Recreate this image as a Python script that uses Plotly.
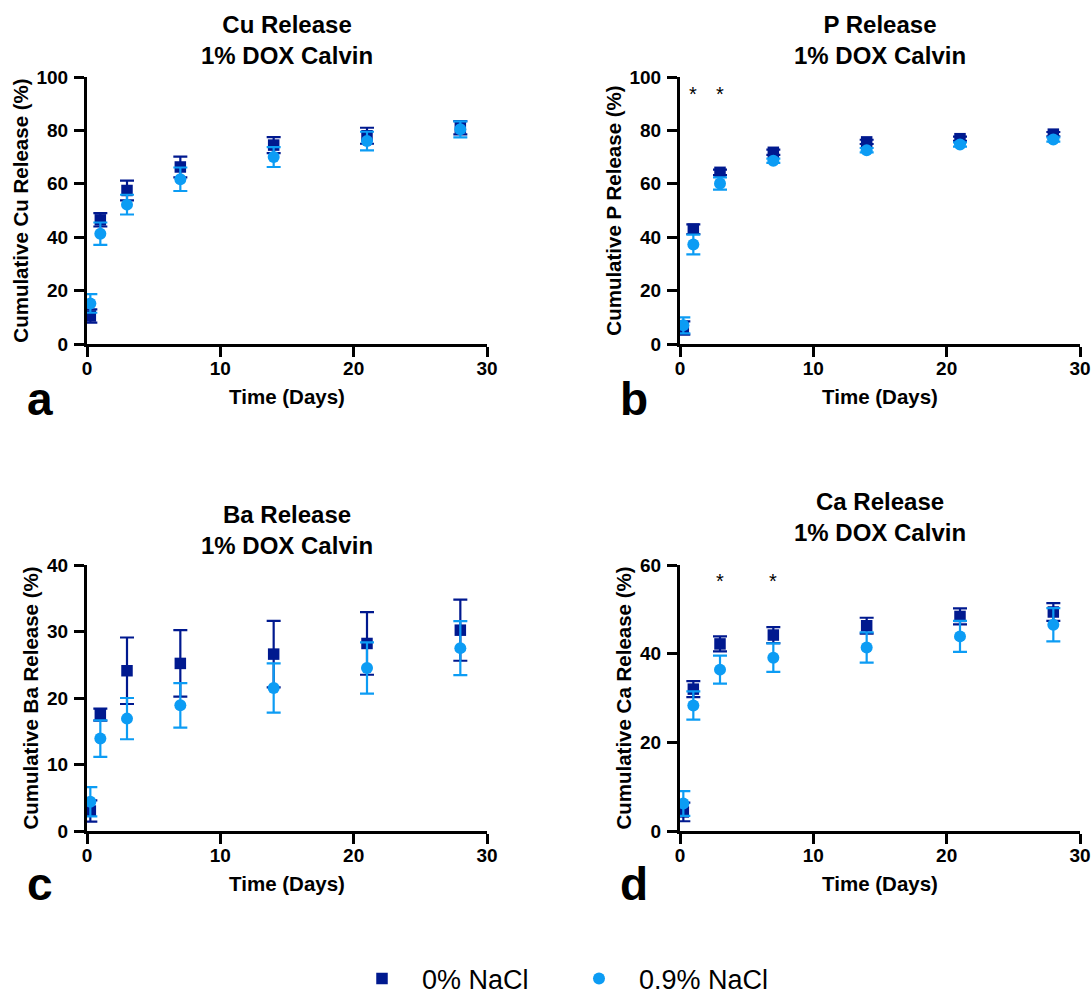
import plotly.graph_objects as go

# ---------------- data ----------------
days = [0.25, 1, 3, 7, 14, 21, 28]
series_names = ["0% NaCl", "0.9% NaCl"]

cu_0 = [10.5, 46.5, 57.5, 66.3, 74.5, 78.0, 81.0]
cu_0_err = [2.5, 2.5, 3.7, 3.9, 3.0, 3.0, 2.5]
cu_09 = [15.2, 41.3, 52.2, 61.7, 70.0, 76.0, 80.4]
cu_09_err = [3.5, 4.2, 3.7, 4.4, 3.7, 3.5, 3.0]

p_0 = [6.0, 43.0, 64.3, 71.8, 75.7, 76.9, 78.6]
p_0_err = [2.5, 1.8, 1.0, 1.0, 0.8, 0.8, 0.8]
p_09 = [7.0, 37.3, 60.1, 68.6, 72.6, 74.7, 76.6]
p_09_err = [3.0, 3.7, 2.3, 0.8, 0.8, 0.8, 0.8]

ba_0 = [3.0, 17.5, 24.1, 25.2, 26.6, 28.2, 30.2]
ba_0_err = [1.6, 0.9, 5.0, 5.0, 5.0, 4.7, 4.6]
ba_09 = [4.4, 13.9, 16.9, 18.9, 21.5, 24.5, 27.5]
ba_09_err = [2.2, 2.75, 3.1, 3.35, 3.7, 3.85, 4.05]

ca_0 = [4.3, 32.0, 42.2, 44.2, 46.3, 48.4, 49.4]
ca_0_err = [2.1, 1.8, 1.7, 1.8, 1.8, 1.8, 2.0]
ca_09 = [6.2, 28.3, 36.4, 39.1, 41.4, 43.9, 46.5]
ca_09_err = [2.8, 3.2, 3.15, 3.2, 3.4, 3.5, 3.75]

panels = [
    dict(title="Cu Release", ylabel="Cumulative Cu Release (%)", letter="a",
         y0=cu_0, e0=cu_0_err, y1=cu_09, e1=cu_09_err, ymax=100, dtick=20,
         stars_x=[], stars_y=None),
    dict(title="P Release", ylabel="Cumulative P Release (%)", letter="b",
         y0=p_0, e0=p_0_err, y1=p_09, e1=p_09_err, ymax=100, dtick=20,
         stars_x=[1, 3], stars_y=93.5),
    dict(title="Ba Release", ylabel="Cumulative Ba Release (%)", letter="c",
         y0=ba_0, e0=ba_0_err, y1=ba_09, e1=ba_09_err, ymax=40, dtick=10,
         stars_x=[], stars_y=None),
    dict(title="Ca Release", ylabel="Cumulative Ca Release (%)", letter="d",
         y0=ca_0, e0=ca_0_err, y1=ca_09, e1=ca_09_err, ymax=60, dtick=20,
         stars_x=[3, 7], stars_y=56.5),
]
subtitle = "1% DOX Calvin"
x_label = "Time (Days)"

# ---------------- style ----------------
W, H = 1092, 1001
FONT = "Liberation Sans, Arial, Helvetica, sans-serif"
DARK = "#00198F"
LIGHT = "#0C9CF4"

# panel pixel boxes: (x0, x1, ytop, ybottom)
boxes = [(87, 487, 77, 344), (680, 1080, 77, 344),
         (87, 487, 565, 831), (680, 1080, 565, 831)]
title_y = [40, 40, 530, 517]
letter_y = [399, 399, 884, 884]

fig = go.Figure()
annotations = []

for i, (pn, box) in enumerate(zip(panels, boxes)):
    k = "" if i == 0 else str(i + 1)
    xa, ya = "x" + k, "y" + k
    x0, x1, yt, yb = box
    fig.add_trace(go.Scatter(
        x=days, y=pn["y0"], mode="markers", name=series_names[0],
        xaxis=xa, yaxis=ya, showlegend=(i == 0), cliponaxis=False,
        marker=dict(symbol="square", size=11.5, color=DARK),
        error_y=dict(type="data", array=pn["e0"], color=DARK, thickness=2.2, width=7),
    ))
    fig.add_trace(go.Scatter(
        x=days, y=pn["y1"], mode="markers", name=series_names[1],
        xaxis=xa, yaxis=ya, showlegend=(i == 0), cliponaxis=False,
        marker=dict(symbol="circle", size=12, color=LIGHT),
        error_y=dict(type="data", array=pn["e1"], color=LIGHT, thickness=2.2, width=7),
    ))
    axis_common = dict(
        showline=True, linewidth=3, linecolor="black", mirror=False,
        ticks="outside", ticklen=10, tickwidth=3, tickcolor="black",
        showgrid=False, zeroline=False, automargin=False,
        tickprefix="<b>", ticksuffix="</b>",
        tickfont=dict(family=FONT, size=19, color="black"),
    )
    fig.layout["xaxis" + k] = dict(
        axis_common, domain=[x0 / W, x1 / W], anchor=ya, range=[0, 30],
        tickmode="linear", tick0=0, dtick=10, ticklabelstandoff=-5,
        title=dict(text="<b>" + x_label + "</b>", standoff=12,
                   font=dict(family=FONT, size=20.5, color="black")),
    )
    fig.layout["yaxis" + k] = dict(
        axis_common, domain=[1 - yb / H, 1 - yt / H], anchor=xa,
        range=[0, pn["ymax"]], tickmode="linear", tick0=0, dtick=pn["dtick"],
        ticklabelstandoff=2,
        title=dict(text="<b>" + pn["ylabel"] + "</b>", standoff=3,
                   font=dict(family=FONT, size=20.5, color="black")),
    )
    # panel title
    annotations.append(dict(
        x=(x0 + x1) / 2 / W, y=1 - title_y[i] / H, xref="paper", yref="paper",
        xanchor="center", yanchor="middle", showarrow=False,
        text="<b>" + pn["title"] + "<br>" + subtitle + "</b>",
        font=dict(family=FONT, size=24, color="black"),
    ))
    # panel letter
    annotations.append(dict(
        x=(40 if i % 2 == 0 else 634) / W, y=1 - letter_y[i] / H,
        xref="paper", yref="paper", xanchor="center", yanchor="middle",
        showarrow=False, text="<b>" + pn["letter"] + "</b>",
        font=dict(family=FONT, size=46, color="black"),
    ))
    for sx in pn["stars_x"]:
        annotations.append(dict(
            x=sx, y=pn["stars_y"], xref=xa, yref=ya, showarrow=False,
            text="*", font=dict(family=FONT, size=20, color="black"),
            xanchor="center", yanchor="middle",
        ))

fig.update_layout(
    width=W, height=H,
    margin=dict(l=0, r=0, t=0, b=0, autoexpand=False),
    paper_bgcolor="white", plot_bgcolor="white",
    showlegend=True,
    legend=dict(
        orientation="h", x=342 / W, xanchor="left", y=1 - 979 / H, yanchor="middle",
        font=dict(family=FONT, size=27, color="black"),
        itemwidth=70, entrywidthmode="pixels", entrywidth=132,
        bgcolor="rgba(0,0,0,0)",
    ),
    annotations=annotations,
)

fig.write_html("out.html", config={"displayModeBar": False},
               post_script="document.body.style.margin='0';")
